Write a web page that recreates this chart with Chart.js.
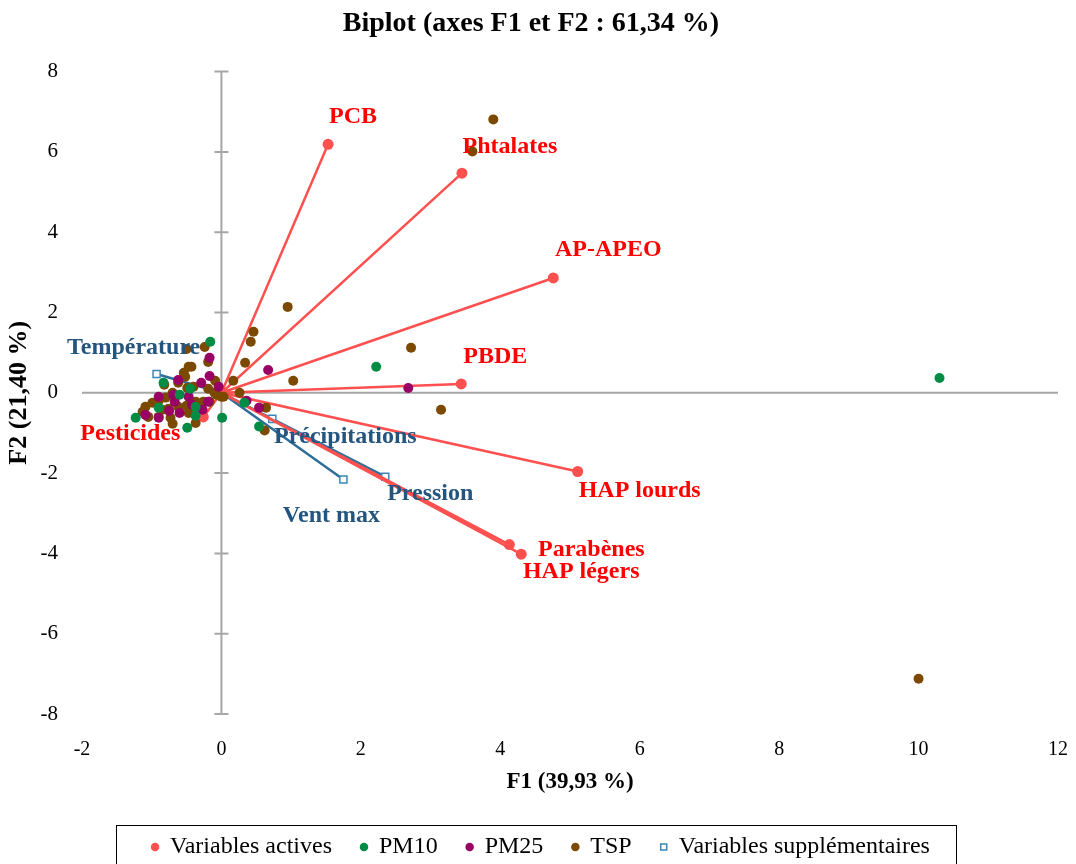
<!DOCTYPE html>
<html>
<head>
<meta charset="utf-8">
<script src="https://cdn.jsdelivr.net/npm/chart.js@4.4.1/dist/chart.umd.min.js"></script>
<style>
  html, body { margin: 0; padding: 0; background: #fff; }
  #wrap { width: 1076px; height: 864px; position: relative; }
</style>
</head>
<body>
<div id="wrap"><canvas id="chart"></canvas></div>
<script>
const serif = "'Times New Roman', 'Liberation Serif', serif";

// variables actives (cercle des corrélations, mis à l'échelle)
const activeNames = ["PCB", "Phtalates", "AP-APEO", "PBDE", "HAP lourds", "Parabènes", "HAP légers", "Pesticides"];
const activeF1 = [1.53, 3.45, 4.76, 3.44, 5.11, 4.13, 4.30, -0.26];
const activeF2 = [6.19, 5.47, 2.86, 0.22, -1.96, -3.78, -4.02, -0.60];

// variables supplémentaires
const suppNames = ["Température", "Précipitations", "Pression", "Vent max"];
const suppF1 = [-0.93, 0.73, 2.35, 1.75];
const suppF2 = [0.47, -0.65, -2.09, -2.16];

// observations
const pm10F1 = [10.30, 2.22, -0.16, -1.23, -0.49, 0.01, 0.54, 0.33, -0.83, -0.37, -0.37, -0.90, -0.60, -0.45];
const pm10F2 = [0.37, 0.65, 1.27, -0.62, -0.87, -0.62, -0.84, -0.25, 0.25, -0.35, -0.57, -0.37, -0.05, 0.10];

const pm25F1 = [0.67, 2.68, -0.17, -0.17, -0.27, -0.04, 0.36, 0.54, -0.29, -0.62, -0.69, -0.90, -0.47, -0.67, -1.09, -0.90, -0.60, -0.19, -0.42, -0.75];
const pm25F2 = [0.57, 0.12, 0.87, 0.42, -0.42, 0.15, -0.20, -0.37, 0.25, 0.32, -0.05, -0.10, -0.10, -0.22, -0.55, -0.62, -0.50, -0.22, -0.30, -0.45];

const tspF1 = [3.90, 3.60, 0.95, 0.46, 0.42, 2.72, 0.34, 1.03, 3.15, 0.62, 0.64, 0.17, 0.26, -0.09, -0.19, -0.17, -0.07, 0.03, -0.24, -0.19,
  -0.50, -0.47, -0.43, -0.54, -0.52, -0.62, -0.40, -0.82, -0.49, -0.10, 0.00, -0.70, -0.80, -0.90, -0.99, -1.09, -1.13, -1.05, -0.90, -0.73,
  -0.76, -0.62, -0.50, -0.47, -0.37, -0.26, -0.70, -0.37, -0.85, 10.00];
const tspF2 = [6.81, 6.01, 2.14, 1.52, 1.27, 1.12, 0.75, 0.30, -0.42, -0.94, -0.37, 0.30, 0.00, 0.30, 0.10, -0.22, -0.05, -0.10, 1.14, 0.77,
  1.09, 0.65, 0.65, 0.50, 0.40, 0.25, 0.15, 0.20, 0.12, 0.00, -0.10, 0.00, -0.12, -0.20, -0.25, -0.35, -0.47, -0.60, -0.60, -0.62,
  -0.40, -0.35, -0.32, -0.50, -0.22, -0.22, -0.77, -0.75, -0.42, -7.12];

const xTicks = [-2, 0, 2, 4, 6, 8, 10, 12];
const yTicks = [-8, -6, -4, -2, 0, 2, 4, 6, 8];

// décalages des étiquettes (px) par rapport à l'extrémité
const activeLabelOffset = [[25, -27], [48, -26], [55, -28], [34, -27], [62, 19], [82, 5], [60, 18], [-73, 17]];
const suppLabelOffset = [[-23, -26], [73, 18], [45, 17], [-12, 36]];

function star(f1, f2) {
  const out = [];
  f1.forEach((v, i) => { out.push({x: 0, y: 0}); out.push({x: v, y: f2[i]}); });
  return out;
}
function pts(f1, f2) { return f1.map((v, i) => ({x: v, y: f2[i]})); }

const red = "#FF5050";
const blueLine = "#2E6F9A";
const legendShift = 10;

const crossAxes = {
  id: "crossAxes",
  afterUpdate(chart) {
    const lg = chart.legend;
    if (!lg) return;
    lg.left += legendShift;
    lg.right += legendShift;
    lg.legendHitBoxes.forEach(b => { b.left += legendShift; });
  },
  beforeDatasetsDraw(chart) {
    const {ctx, scales: {x, y}} = chart;
    const x0 = x.getPixelForValue(0), y0 = y.getPixelForValue(0);
    ctx.save();
    ctx.strokeStyle = "#A6A6A6";
    ctx.lineWidth = 2;
    ctx.beginPath();
    ctx.moveTo(x.left, y0); ctx.lineTo(x.right, y0);
    ctx.moveTo(x0, y.top); ctx.lineTo(x0, y.bottom);
    yTicks.forEach(t => {
      const py = y.getPixelForValue(t);
      ctx.moveTo(x0 - 7, py); ctx.lineTo(x0 + 7, py);
    });
    ctx.stroke();
    ctx.restore();
  },
  afterDatasetsDraw(chart) {
    const {ctx, scales: {x, y}} = chart;
    ctx.save();
    ctx.font = "bold 24px " + serif;
    ctx.textAlign = "center";
    ctx.textBaseline = "middle";
    ctx.fillStyle = "#FF0000";
    activeNames.forEach((n, i) => {
      ctx.fillText(n, x.getPixelForValue(activeF1[i]) + activeLabelOffset[i][0], y.getPixelForValue(activeF2[i]) + activeLabelOffset[i][1]);
    });
    ctx.fillStyle = "#24557F";
    suppNames.forEach((n, i) => {
      ctx.fillText(n, x.getPixelForValue(suppF1[i]) + suppLabelOffset[i][0], y.getPixelForValue(suppF2[i]) + suppLabelOffset[i][1]);
    });
    ctx.restore();
  },
  afterDraw(chart) {
    const lg = chart.legend;
    if (!lg || !lg.legendHitBoxes.length) return;
    const boxes = lg.legendHitBoxes;
    const l = Math.min(...boxes.map(b => b.left)) - 36;
    const r = Math.max(...boxes.map(b => b.left + b.width)) + 26;
    const t = boxes[0].top - 10;
    const ctx = chart.ctx;
    ctx.save();
    ctx.strokeStyle = "#000";
    ctx.lineWidth = 1;
    ctx.strokeRect(Math.round(l) + 0.5, Math.round(t) + 0.5, Math.round(r - l), 80);
    ctx.restore();
  }
};

new Chart(document.getElementById("chart"), {
  type: "scatter",
  data: {
    datasets: [
      {
        label: "Variables actives",
        data: star(activeF1, activeF2),
        showLine: true,
        borderColor: red,
        backgroundColor: red,
        borderWidth: 2.5,
        pointStyle: "circle",
        pointRadius: c => c.dataIndex % 2 ? 5.5 : 0,
        pointBorderWidth: 0,
        order: 1
      },
      {
        label: "PM10",
        data: pts(pm10F1, pm10F2),
        backgroundColor: "#008C45",
        borderColor: "#008C45",
        pointRadius: 5,
        pointBorderWidth: 0,
        order: 0
      },
      {
        label: "PM25",
        data: pts(pm25F1, pm25F2),
        backgroundColor: "#990066",
        borderColor: "#990066",
        pointRadius: 5,
        pointBorderWidth: 0,
        order: 0
      },
      {
        label: "TSP",
        data: pts(tspF1, tspF2),
        backgroundColor: "#7B4A00",
        borderColor: "#7B4A00",
        pointRadius: 5,
        pointBorderWidth: 0,
        order: 0
      },
      {
        label: "Variables supplémentaires",
        data: star(suppF1, suppF2),
        showLine: true,
        borderColor: blueLine,
        backgroundColor: "#FFFFFF",
        borderWidth: 2.5,
        pointStyle: "rect",
        pointRadius: c => c.dataIndex % 2 ? 5 : 0,
        pointBorderColor: "#3A86B8",
        pointBackgroundColor: "#FFFFFF",
        pointBorderWidth: 1.5,
        order: 2
      }
    ]
  },
  options: {
    responsive: true,
    maintainAspectRatio: false,
    animation: false,
    events: [],
    layout: { padding: { left: 4, right: 18, top: 0, bottom: -5 } },
    scales: {
      x: {
        type: "linear",
        min: -2, max: 12,
        afterBuildTicks: s => { s.ticks = xTicks.map(v => ({value: v})); },
        afterFit: s => { s.height = 92; s.paddingLeft = 0; s.paddingRight = 0; },
        grid: { display: false, drawTicks: false },
        border: { display: false },
        ticks: { color: "#000", font: { family: serif, size: 20 }, padding: 24 },
        title: { display: true, text: "F1 (39,93 %)", color: "#000", font: { family: serif, size: 23, weight: "bold" }, padding: { top: 0, bottom: 10 } }
      },
      y: {
        type: "linear",
        min: -8, max: 8,
        afterBuildTicks: s => { s.ticks = yTicks.map(v => ({value: v})); },
        afterFit: s => { s.width = 78; s.paddingTop = 0; s.paddingBottom = 0; },
        grid: { display: false, drawTicks: false },
        border: { display: false },
        ticks: { color: "#000", font: { family: serif, size: 21 }, padding: 24 },
        title: { display: true, text: "F2 (21,40 %)", color: "#000", font: { family: serif, size: 26, weight: "bold" }, padding: { top: 0, bottom: 0 } }
      }
    },
    plugins: {
      title: {
        display: true,
        text: "Biplot (axes F1 et F2 : 61,34 %)",
        color: "#000",
        font: { family: serif, size: 28, weight: "bold" },
        padding: { top: 7, bottom: 31 }
      },
      legend: {
        position: "bottom",
        labels: {
          usePointStyle: true,
          boxHeight: 6,
          boxWidth: 6,
          color: "#000",
          font: { family: serif, size: 24 },
          padding: 29,
          sort: (a, b) => a.datasetIndex - b.datasetIndex
        }
      },
      tooltip: { enabled: false }
    }
  },
  plugins: [crossAxes]
});
</script>
</body>
</html>
